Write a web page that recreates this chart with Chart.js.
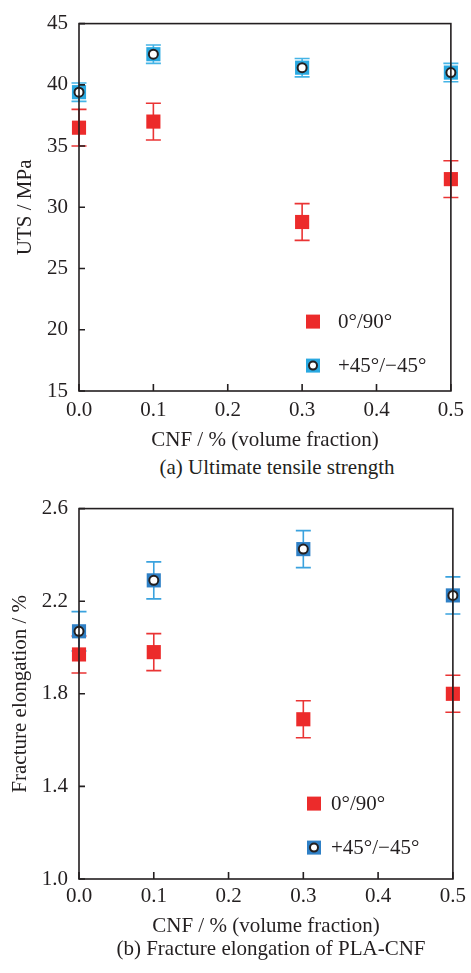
<!DOCTYPE html>
<html>
<head>
<meta charset="utf-8">
<script src="https://cdn.jsdelivr.net/npm/chart.js@4.4.1/dist/chart.umd.min.js"></script>
<style>
  html, body { margin: 0; padding: 0; background: #fff; }
  body {
    width: 471px; height: 973px; position: relative; overflow: hidden;
    font-family: "Liberation Serif", "Times New Roman", Times, "DejaVu Serif", serif; color: #231f20;
  }
  .panel { position: absolute; left: 0; width: 471px; }
  #wrapA { top: 0; height: 455px; }
  #wrapB { top: 485px; height: 460px; }
  .caption {
    position: absolute; font-size: 21px; line-height: 24px;
    white-space: nowrap; transform: translateX(-50%);
  }
</style>
</head>
<body>
<div class="panel" id="wrapA"><canvas id="chartA"></canvas></div>
<div class="panel" id="wrapB"><canvas id="chartB"></canvas></div>
<div class="caption" style="left:277px; top:455px">(a) Ultimate tensile strength</div>
<div class="caption" style="left:271px; top:936px">(b) Fracture elongation of PLA-CNF</div>

<script>
// CNF content (volume fraction, %)
const cnf = [0, 0.1, 0.3, 0.5]
const seriesLabels = ["0°/90°", "+45°/\u221245°"]

// (a) ultimate tensile strength, MPa
const utsCross = [36.5, 37.0, 28.8, 32.3]
const utsCrossErr = [1.5, 1.5, 1.5, 1.5]
const utsAngle = [39.4, 42.5, 41.4, 41.0]
const utsAngleErr = [0.75, 0.75, 0.75, 0.75]

// (b) fracture elongation, %
const elCross = [1.97, 1.98, 1.69, 1.80]
const elCrossErr = [0.08, 0.08, 0.08, 0.08]
const elAngle = [2.07, 2.29, 2.425, 2.225]
const elAngleErr = [0.085, 0.08, 0.08, 0.08]

const xTitle = "CNF / % (volume fraction)"
const INK = "#231f20"
const SERIF = "'Liberation Serif', 'Times New Roman', Times, 'DejaVu Serif', serif"

const toPoints = (vals) => vals.map((v, i) => ({ x: cnf[i], y: v }))

// error bars go under the markers
const errorBars = {
  id: "errorBars",
  beforeDatasetsDraw(chart) {
    const { ctx, scales: { x, y } } = chart
    chart.data.datasets.forEach((ds) => {
      if (!ds.errors) return
      ctx.save()
      ctx.strokeStyle = ds.errorColor
      ctx.lineWidth = 1.6
      ctx.beginPath()
      ds.data.forEach((p, j) => {
        const px = x.getPixelForValue(p.x)
        const top = y.getPixelForValue(p.y + ds.errors[j])
        const bot = y.getPixelForValue(p.y - ds.errors[j])
        ctx.moveTo(px, top); ctx.lineTo(px, bot)
        ctx.moveTo(px - 7.5, top); ctx.lineTo(px + 7.5, top)
        ctx.moveTo(px - 7.5, bot); ctx.lineTo(px + 7.5, bot)
      })
      ctx.stroke()
      ctx.restore()
    })
  }
}

// box frame with inward ticks, drawn over the markers like the original
const frame = {
  id: "frame",
  afterDatasetsDraw(chart) {
    const { ctx, chartArea: a, scales: { x, y } } = chart
    ctx.save()
    ctx.strokeStyle = INK
    ctx.lineWidth = 1.6
    ctx.strokeRect(a.left, a.top, a.right - a.left, a.bottom - a.top)
    ctx.beginPath()
    x.ticks.forEach(t => {
      const px = x.getPixelForValue(t.value)
      ctx.moveTo(px, a.bottom); ctx.lineTo(px, a.bottom - 7)
    })
    y.ticks.forEach(t => {
      const py = y.getPixelForValue(t.value)
      ctx.moveTo(a.left, py); ctx.lineTo(a.left + 6, py)
    })
    ctx.stroke()
    ctx.restore()
  }
}

// legend inside the plot
const markLegend = {
  id: "markLegend",
  afterDraw(chart, args, opts) {
    const { ctx, chartArea: a } = chart
    ctx.save()
    ctx.font = `21px ${SERIF}`
    ctx.textBaseline = "middle"
    opts.items.forEach((it, i) => {
      const cx = a.left + opts.x
      const cy = a.top + opts.y + i * opts.dy
      ctx.fillStyle = it.color
      ctx.fillRect(cx - 7, cy - 7, 14, 14)
      if (it.circle) {
        ctx.beginPath()
        ctx.arc(cx, cy, 4, 0, Math.PI * 2)
        ctx.fillStyle = "#fff"
        ctx.fill()
        ctx.lineWidth = 2
        ctx.strokeStyle = INK
        ctx.stroke()
      }
      ctx.fillStyle = INK
      ctx.fillText(it.label, a.left + opts.textX, cy + 1)
    })
    ctx.restore()
  }
}

function buildChart(canvas, cfg) {
  const font = { family: SERIF, size: 21 }
  return new Chart(canvas, {
    type: "scatter",
    data: {
      datasets: [
        {
          label: seriesLabels[0],
          data: toPoints(cfg.cross),
          errors: cfg.crossErr,
          errorColor: "#ea3434",
          pointStyle: "rect",
          pointRadius: 10,
          pointBackgroundColor: "#ec2b2b",
          pointBorderWidth: 0,
          clip: false,
          order: 2,
        },
        {
          label: seriesLabels[1],
          data: toPoints(cfg.angle),
          errors: cfg.angleErr,
          errorColor: cfg.angleErrColor,
          pointStyle: "rect",
          pointRadius: 10,
          pointBackgroundColor: cfg.angleColor,
          pointBorderWidth: 0,
          clip: false,
          order: 1,
        },
        {
          // white centre dot on top of the blue squares
          label: seriesLabels[1] + " centre",
          data: toPoints(cfg.angle),
          pointStyle: "circle",
          pointRadius: 4.5,
          pointBackgroundColor: "#fff",
          pointBorderColor: INK,
          pointBorderWidth: 2,
          clip: false,
          order: 0,
        }
      ]
    },
    plugins: [errorBars, frame, markLegend],
    options: {
      responsive: true,
      maintainAspectRatio: false,
      animation: false,
      devicePixelRatio: 1,
      layout: { padding: { top: cfg.padTop, right: 13, bottom: 0, left: 0 } },
      plugins: {
        legend: { display: false },
        tooltip: { enabled: false },
        markLegend: {
          x: cfg.legendX, y: cfg.legendY, dy: 44, textX: cfg.legendTextX,
          items: [
            { label: seriesLabels[0], color: "#ec2b2b" },
            { label: seriesLabels[1], color: cfg.angleColor, circle: true }
          ]
        }
      },
      scales: {
        x: {
          type: "linear",
          min: 0,
          max: 0.5,
          grid: { display: false, drawTicks: false },
          border: { display: false },
          ticks: { stepSize: 0.1, padding: cfg.xTickPad, font, color: INK, callback: v => v.toFixed(1) },
          title: { display: true, text: xTitle, font, color: INK, padding: { top: 0, bottom: cfg.xTitlePad } },
          afterFit: s => { s.height = cfg.xHeight }
        },
        y: {
          min: cfg.yMin,
          max: cfg.yMax,
          grid: { display: false, drawTicks: false },
          border: { display: false },
          ticks: { stepSize: cfg.yStep, padding: 11, font, color: INK, callback: cfg.yFormat },
          title: { display: true, text: cfg.yTitle, font, color: INK, padding: { top: cfg.yTitlePad, bottom: 0 } },
          afterFit: s => { s.width = 79 }
        }
      }
    }
  })
}

buildChart(document.getElementById("chartA"), {
  cross: utsCross, crossErr: utsCrossErr,
  angle: utsAngle, angleErr: utsAngleErr,
  angleColor: "#2aa9e1", angleErrColor: "#45b4e6",
  yMin: 15, yMax: 45, yStep: 5, yFormat: v => v,
  yTitle: "UTS / MPa", yTitlePad: 13,
  padTop: 15, xHeight: 64, xTickPad: 7, xTitlePad: 2.4,
  legendX: 234, legendY: 298, legendTextX: 259,
})

buildChart(document.getElementById("chartB"), {
  cross: elCross, crossErr: elCrossErr,
  angle: elAngle, angleErr: elAngleErr,
  angleColor: "#2f80c6", angleErrColor: "#3aa2de",
  yMin: 1.0, yMax: 2.6, yStep: 0.4, yFormat: v => v.toFixed(1),
  yTitle: "Fracture elongation / %", yTitlePad: 8,
  padTop: 18, xHeight: 66, xTickPad: 5, xTitlePad: 5.7,
  legendX: 235, legendY: 295, legendTextX: 252,
})
</script>
</body>
</html>
